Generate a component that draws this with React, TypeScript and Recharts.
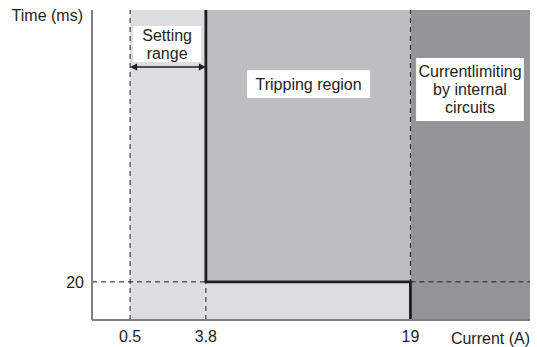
import React from 'react';
import { ComposedChart, XAxis, YAxis, Line, ReferenceArea, ReferenceLine, Label } from 'recharts';

// Schematic chart: the axes are not to scale, so the tick values sit at
// fixed positions on a 0–100 axis and are shown with their real labels.
const AXIS_MAX = 100;
const currentTicks = [8.7, 26, 72.7];
const currentLabels = ['0.5', '3.8', '19'];
const timeTicks = [12.3];
const timeLabels = ['20'];

const [I_MIN, I_SET, I_LIMIT] = currentTicks;
const [T_TRIP] = timeTicks;

// trip characteristic (thick line)
const tripCurve = [
  { x: I_SET, y: AXIS_MAX },
  { x: I_SET, y: T_TRIP },
  { x: I_LIMIT, y: T_TRIP },
  { x: I_LIMIT, y: 0 },
];

const regionNames = [['Setting', 'range'], ['Tripping region'], ['Currentlimiting', 'by internal', 'circuits']];

const LIGHT = '#dcdddf';
const MID = '#bdbec1';
const DARK = '#949598';
const INK = '#1e1e1e';
const DASH = '5 4';
const FONT = '"Liberation Sans", Arial, sans-serif';
const FS = 16;

const boxLabel = (lines: string[]) => (props: any) => {
  const { x, y, width, height } = props.viewBox;
  const lh = 18;
  const y0 = y + height / 2 - ((lines.length - 1) * lh) / 2 + FS * 0.35;
  return (
    <text textAnchor="middle" fontSize={FS} fill={INK} fontFamily={FONT}>
      {lines.map((l, i) => (
        <tspan key={i} x={x + width / 2} y={y0 + i * lh}>
          {l}
        </tspan>
      ))}
    </text>
  );
};

const arrowShape = (props: any) => {
  const { x1, y1, x2, y2 } = props;
  const a = 7;
  const h = 3.5;
  return (
    <g>
      <line x1={x1 + 2} y1={y1} x2={x2 - 2} y2={y2} stroke={INK} strokeWidth={1.5} />
      <polygon points={`${x1},${y1} ${x1 + a},${y1 - h} ${x1 + a},${y1 + h}`} fill={INK} />
      <polygon points={`${x2},${y2} ${x2 - a},${y2 - h} ${x2 - a},${y2 + h}`} fill={INK} />
    </g>
  );
};

export default function App() {
  return (
    <div style={{ position: 'absolute', left: 0, top: 0, fontFamily: FONT }}>
      <ComposedChart width={537} height={347} data={tripCurve} margin={{ top: 10, right: 7, left: 0, bottom: 0 }}>
        {/* regions */}
        <ReferenceArea x1={I_MIN} x2={I_SET} y1={0} y2={AXIS_MAX} fill={LIGHT} fillOpacity={1} stroke="none" />
        <ReferenceArea x1={I_SET} x2={I_LIMIT} y1={0} y2={T_TRIP} fill={LIGHT} fillOpacity={1} stroke="none" />
        <ReferenceArea x1={I_SET} x2={I_LIMIT} y1={T_TRIP} y2={AXIS_MAX} fill={MID} fillOpacity={1} stroke="none" />
        <ReferenceArea x1={I_LIMIT} x2={AXIS_MAX} y1={0} y2={AXIS_MAX} fill={DARK} fillOpacity={1} stroke="none" />

        {/* guide lines */}
        <ReferenceLine x={I_MIN} stroke={INK} strokeDasharray={DASH} />
        <ReferenceLine x={I_LIMIT} stroke={INK} strokeDasharray={DASH} />
        <ReferenceLine segment={[{ x: I_SET, y: 0 }, { x: I_SET, y: T_TRIP }]} stroke={INK} strokeDasharray={DASH} />
        <ReferenceLine segment={[{ x: 0, y: T_TRIP }, { x: I_SET, y: T_TRIP }]} stroke={INK} strokeDasharray={DASH} />
        <ReferenceLine segment={[{ x: I_LIMIT, y: T_TRIP }, { x: AXIS_MAX, y: T_TRIP }]} stroke={INK} strokeDasharray={DASH} />

        {/* region labels */}
        <ReferenceArea x1={9.4} x2={24.9} y1={83.2} y2={94.8} fill="#fff" fillOpacity={1} stroke="none" label={{ content: boxLabel(regionNames[0]) }} />
        <ReferenceArea x1={35.4} x2={63.5} y1={71.6} y2={80.6} fill="#fff" fillOpacity={1} stroke="none" label={{ content: boxLabel(regionNames[1]) }} />
        <ReferenceArea x1={74} x2={98.6} y1={64.2} y2={84.5} fill="#fff" fillOpacity={1} stroke="none" label={{ content: boxLabel(regionNames[2]) }} />
        <ReferenceLine segment={[{ x: I_MIN, y: 81.6 }, { x: I_SET, y: 81.6 }]} shape={arrowShape} />

        <Line dataKey="y" stroke={INK} strokeWidth={2.8} dot={false} activeDot={false} isAnimationActive={false} strokeLinejoin="miter" />

        <XAxis
          type="number"
          dataKey="x"
          domain={[0, AXIS_MAX]}
          ticks={currentTicks}
          tickFormatter={(v) => currentLabels[currentTicks.indexOf(v)]}
          tickLine={false}
          tickMargin={5}
          height={27}
          axisLine={{ stroke: '#808080', strokeWidth: 2 }}
          tick={{ fill: INK, fontSize: FS }}
        >
          <Label
            content={(p: any) => (
              <text x={p.viewBox.x + p.viewBox.width} y={344} textAnchor="end" fontSize={FS} fill={INK}>
                Current (A)
              </text>
            )}
          />
        </XAxis>
        <YAxis
          type="number"
          domain={[0, AXIS_MAX]}
          ticks={timeTicks}
          tickFormatter={(v) => timeLabels[timeTicks.indexOf(v)]}
          tickLine={false}
          width={92}
          axisLine={{ stroke: '#808080', strokeWidth: 2 }}
          tick={{ fill: INK, fontSize: FS }}
        >
          <Label
            content={(p: any) => (
              <text x={83} y={p.viewBox.y + 11} textAnchor="end" fontSize={FS} fill={INK}>
                Time (ms)
              </text>
            )}
          />
        </YAxis>
      </ComposedChart>
    </div>
  );
}
